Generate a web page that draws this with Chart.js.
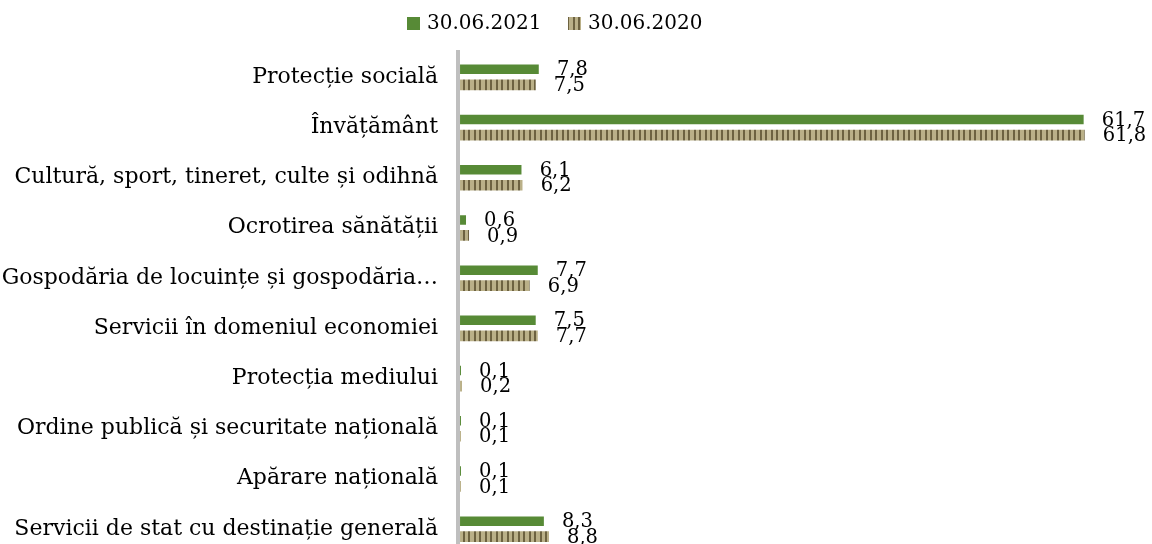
<!DOCTYPE html>
<html>
<head>
<meta charset="utf-8">
<script src="https://cdn.jsdelivr.net/npm/chart.js@4/dist/chart.umd.min.js"></script>
<style>
html,body{margin:0;padding:0;background:#fff;width:1152px;height:544px;overflow:hidden;}
#wrap{width:1152px;height:544px;overflow:hidden;position:relative;}
canvas{display:block;}
</style>
</head>
<body>
<div id="wrap"><canvas id="c" width="1152" height="556"></canvas></div>
<script>
const categories = [
  "Protecție socială",
  "Învățământ",
  "Cultură, sport, tineret, culte și odihnă",
  "Ocrotirea sănătății",
  "Gospodăria de locuințe și gospodăria…",
  "Servicii în domeniul economiei",
  "Protecția mediului",
  "Ordine publică și securitate națională",
  "Apărare națională",
  "Servicii de stat cu destinație generală"
];
const seriesNames = ["30.06.2021", "30.06.2020"];
const values2021 = [7.8, 61.7, 6.1, 0.6, 7.7, 7.5, 0.1, 0.1, 0.1, 8.3];
const values2020 = [7.5, 61.8, 6.2, 0.9, 6.9, 7.7, 0.2, 0.1, 0.1, 8.8];

const FONT = "'DejaVu Serif', 'Liberation Serif', serif";
const GREEN = '#578a36';

function stripePattern(){
  const p = document.createElement('canvas');
  p.width = 11; p.height = 4;
  const g = p.getContext('2d');
  g.fillStyle = '#bab088';
  g.fillRect(0,0,11,4);
  g.fillStyle = '#6d6240';
  g.fillRect(1,0,2,4);
  g.fillRect(6,0,2,4);
  return g.createPattern(p,'repeat');
}
const ctx = document.getElementById('c').getContext('2d');
const STRIPE = stripePattern();

const labelPlugin = {
  id: 'valueLabels',
  afterDatasetsDraw(chart){
    const c = chart.ctx;
    c.save();
    c.font = "19.5px " + FONT;
    c.fillStyle = '#000';
    c.textBaseline = 'middle';
    c.textAlign = 'left';
    chart.data.datasets.forEach((ds, di) => {
      const meta = chart.getDatasetMeta(di);
      meta.data.forEach((el, i) => {
        const txt = String(ds.data[i]).replace('.', ',');
        c.fillText(txt, el.x + 18, el.y + 1);
      });
    });
    c.restore();
  }
};

const legendPlugin = {
  id: 'customLegend',
  afterDraw(chart){
    const c = chart.ctx;
    c.save();
    c.font = "20px " + FONT;
    c.textBaseline = 'middle';
    c.textAlign = 'left';
    const y = 23.5;
    const items = [{x:407, fill:GREEN}, {x:568, fill:STRIPE}];
    chart.data.datasets.forEach((ds, di) => {
      const it = items[di];
      c.fillStyle = it.fill;
      c.fillRect(it.x, y - 6.5, 13, 13);
      c.fillStyle = '#000';
      c.fillText(ds.label, it.x + 20, y);
    });
    c.restore();
  }
};

new Chart(ctx, {
  type: 'bar',
  data: {
    labels: categories,
    datasets: [
      {
        label: seriesNames[0],
        data: values2021,
        backgroundColor: GREEN,
        borderColor: 'rgba(0,0,0,0)',
        borderWidth: {top:3, bottom:3, left:0, right:0},
        borderSkipped: false,
        categoryPercentage: 0.6175,
        barPercentage: 1
      },
      {
        label: seriesNames[1],
        data: values2020,
        backgroundColor: STRIPE,
        borderColor: 'rgba(0,0,0,0)',
        borderWidth: {top:2.4, bottom:2.4, left:0, right:0},
        borderSkipped: false,
        categoryPercentage: 0.6175,
        barPercentage: 1
      }
    ]
  },
  options: {
    indexAxis: 'y',
    responsive: false,
    animation: false,
    layout: {padding: {top: 52, right: 4.5, bottom: 2, left: 0}},
    plugins: {
      legend: {display: false},
      tooltip: {enabled: false}
    },
    scales: {
      x: {
        display: false,
        min: -0.2,
        max: 68
      },
      y: {
        afterFit(scale){ scale.width = 458; scale.paddingBottom = 0; scale.paddingTop = 0; },
        grid: {display: false, drawTicks: false},
        border: {display: true, color: '#bfbfbf', width: 4},
        ticks: {
          padding: 20,
          color: '#000',
          font: {family: FONT, size: 22}
        }
      }
    }
  },
  plugins: [labelPlugin, legendPlugin]
});
</script>
</body>
</html>
